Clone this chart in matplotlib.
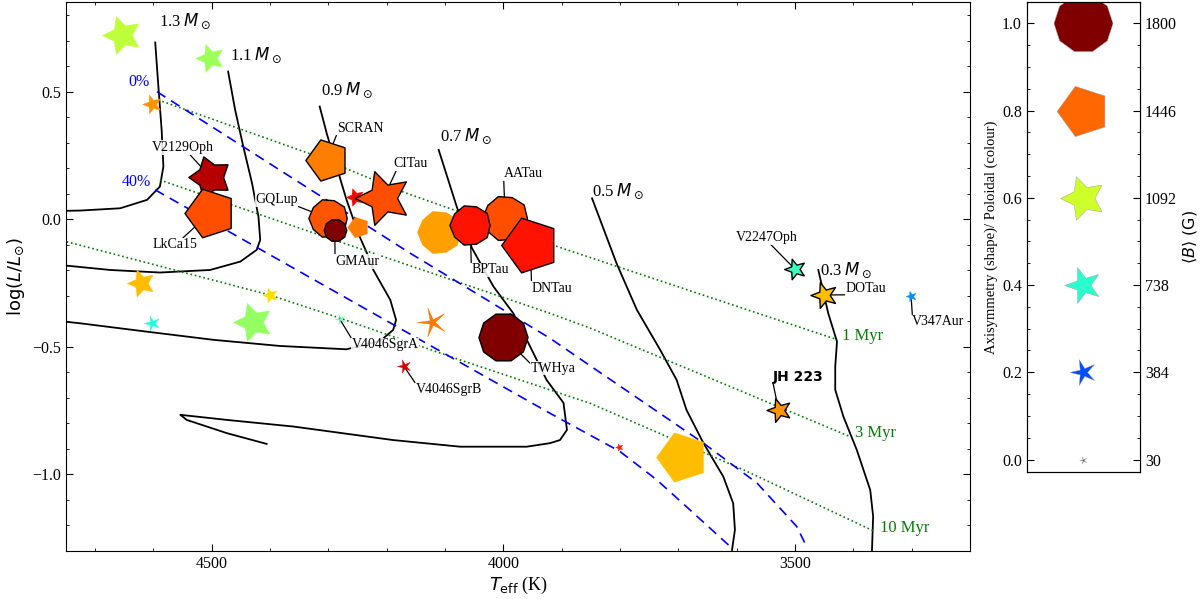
import numpy as np
import matplotlib
matplotlib.use("Agg")
import matplotlib.pyplot as plt
from matplotlib.path import Path
from matplotlib.ticker import MultipleLocator, FormatStrFormatter

plt.rcParams['font.family'] = 'serif'
plt.rcParams['font.serif'] = ['Liberation Serif', 'DejaVu Serif']
plt.rcParams['mathtext.fontset'] = 'dejavusans'

# ---- evolutionary tracks (Teff [K], log L/Lsun) ----
trk13_T = [4597, 4592, 4586, 4583, 4589, 4611, 4657, 4726, 4750]
trk13_L = [0.693, 0.533, 0.350, 0.206, 0.128, 0.076, 0.043, 0.034, 0.033]
trk11_T = [4472, 4460, 4446, 4431, 4420, 4417, 4423, 4451, 4503, 4589, 4674, 4749]
trk11_L = [0.579, 0.429, 0.285, 0.141, 0.010, -0.081, -0.120, -0.166, -0.199, -0.209, -0.199, -0.182]
trk09_T = [4315, 4303, 4286, 4269, 4249, 4234, 4223, 4194, 4184, 4189, 4211, 4269, 4383, 4497, 4611, 4726, 4750]
trk09_L = [0.442, 0.337, 0.206, 0.076, -0.055, -0.133, -0.199, -0.316, -0.395, -0.434, -0.477, -0.510,
           -0.497, -0.473, -0.441, -0.408, -0.402]
trk07_T = [4111, 4080, 4054, 4017, 3983, 3954, 3926, 3897, 3891, 3903, 3920, 3960, 4074, 4189, 4360,
           4474, 4554, 4543, 4474, 4406]
trk07_L = [0.272, 0.049, -0.113, -0.264, -0.369, -0.50, -0.63, -0.72, -0.826, -0.866, -0.878, -0.892,
           -0.892, -0.866, -0.813, -0.787, -0.767, -0.787, -0.839, -0.881]
trk05_T = [3848, 3806, 3771, 3731, 3703, 3686, 3657, 3623, 3606, 3603, 3608]
trk05_L = [0.082, -0.173, -0.356, -0.513, -0.630, -0.748, -0.878, -1.009, -1.114, -1.218, -1.297]
trk03_T = [3460, 3451, 3443, 3428, 3431, 3431, 3417, 3394, 3371, 3366, 3368]
trk03_L = [-0.199, -0.29, -0.369, -0.48, -0.578, -0.669, -0.774, -0.905, -1.062, -1.166, -1.297]
track_labels = ['1.3', '1.1', '0.9', '0.7', '0.5', '0.3']

# ---- isochrones ----
iso1_T = [4592, 4326, 4177, 3908, 3428]
iso1_L = [0.468, 0.252, 0.111, -0.107, -0.472]
iso3_T = [4589, 4383, 3920, 3851, 3405]
iso3_L = [0.154, -0.009, -0.369, -0.427, -0.853]
iso10_T = [4749, 4401, 4280, 4074, 3851, 3588, 3363]
iso10_L = [-0.088, -0.297, -0.388, -0.552, -0.722, -0.983, -1.225]
iso_labels = ['1 Myr', '3 Myr', '10 Myr']

# ---- spot coverage lines ----
spot0_T = [4594, 4160, 3920, 3657, 3565, 3497, 3480]
spot0_L = [0.50, -0.133, -0.467, -0.878, -1.035, -1.205, -1.284]
spot40_T = [4597, 3920, 3800, 3737, 3680, 3608]
spot40_L = [0.115, -0.761, -0.911, -1.022, -1.140, -1.290]
spot_labels = ['0%', '40%']

# ---- stars ----
names = ['', '', '', 'V2129Oph', 'LkCa15', 'SCRAN', '', 'CITau', 'GQLup', 'GMAur', '', '',
         'AATau', 'BPTau', 'DNTau', 'TWHya', '', '', '', '', 'V4046SgrA', '', 'V4046SgrB',
         '', '', 'V2247Oph', 'DOTau', 'V347Aur', 'JH 223']
teff = [4654, 4503, 4603, 4503, 4503, 4303, 4254, 4206, 4300, 4289, 4249, 4111,
        3997, 4057, 3954, 4000, 4622, 4401, 4603, 4429, 4281, 4123, 4171,
        3801, 3694, 3500, 3450, 3301, 3528]
logl = [0.723, 0.631, 0.452, 0.167, 0.024, 0.233, 0.086, 0.082, 0.004, -0.042, -0.029, -0.049,
        0.004, -0.022, -0.101, -0.46, -0.249, -0.297, -0.405, -0.402, -0.39, -0.402, -0.575,
        -0.892, -0.931, -0.196, -0.297, -0.30, -0.75]
bmean = [830, 445, 200, 970, 1350, 970, 177, 1650, 800, 265, 242, 1010,
         1100, 880, 1715, 1250, 413, 120, 138, 830, 60, 480, 104,
         30, 1400, 242, 380, 60, 323]
axisym = [0.6, 0.55, 0.45, 0.67, 0.8, 0.8, 0.55, 0.6, 0.95, 1.0, 0.8, 0.95,
          0.95, 0.95, 0.8, 1.0, 0.55, 0.5, 0.2, 0.6, 0.03, 0.08, 0.2,
          0.45, 0.8, 0.45, 0.45, 0.4, 0.45]
poloidal = [0.58, 0.54, 0.75, 0.95, 0.825, 0.775, 0.9, 0.825, 0.82, 1.0, 0.775, 0.74,
            0.825, 0.89, 0.89, 1.0, 0.71, 0.675, 0.39, 0.53, 0.45, 0.78, 0.925,
            0.88, 0.71, 0.42, 0.71, 0.265, 0.75]
outlined = [0, 0, 0, 1, 1, 1, 0, 1, 1, 1, 0, 0,
            1, 1, 1, 1, 0, 0, 0, 0, 0, 0, 0,
            0, 0, 1, 1, 0, 1]

# label placement (Teff, logL of text centre) and where the leader leaves the text
label_pos = {
    'V2129Oph': (4549, 0.281, (0.6, 0)), 'LkCa15': (4563, -0.101, (0.66, 1)),
    'SCRAN': (4246, 0.357, (0, 0)), 'CITau': (4160, 0.217, (0.1, 0)),
    'GQLup': (4389, 0.076, (1, 0)), 'GMAur': (4251, -0.166, (0, 1)),
    'BPTau': (4023, -0.199, (0, 1)), 'AATau': (3966, 0.18, (0, 0)),
    'DNTau': (3917, -0.271, (0, 1)), 'TWHya': (3914, -0.584, (0, 0.8)),
    'V4046SgrA': (4203, -0.493, (0, 1)), 'V4046SgrB': (4094, -0.669, (0, 1)),
    'V2247Oph': (3548, -0.071, (0.55, 0)), 'DOTau': (3378, -0.271, (0, 0)),
    'V347Aur': (3254, -0.402, (0, 1)), 'JH 223': (3494, -0.617, (0, 0)),
}

# legend
leg_axi = [0.0, 0.2, 0.4, 0.6, 0.8, 1.0]
leg_b = [30, 384, 738, 1092, 1446, 1800]

shape_axi = [0.0, 0.2, 0.4, 0.6, 0.8, 1.0]
shape_ratio = [0.12, 0.3, 0.4, 0.5, 0.809, 1.0]
jet = matplotlib.colormaps['jet']


def star_marker(a):
    ratio = np.interp(a, shape_axi, shape_ratio)
    ang = np.pi + np.arange(10) * np.pi / 5
    rad = np.where(np.arange(10) % 2 == 0, 1.0, ratio)
    verts = np.column_stack([rad * np.cos(ang), rad * np.sin(ang)])
    verts = np.vstack([verts, verts[:1]])
    codes = [Path.MOVETO] + [Path.LINETO] * 9 + [Path.CLOSEPOLY]
    return Path(verts, codes)


fig = plt.figure(figsize=(12, 5.99), dpi=100)
ax = fig.add_axes([0.055, 0.0793, 0.7533, 0.9174])

tracks = [(trk13_T, trk13_L), (trk11_T, trk11_L), (trk09_T, trk09_L),
          (trk07_T, trk07_L), (trk05_T, trk05_L), (trk03_T, trk03_L)]
mass_offsets = [(2.4, 15), (1.2, 12), (1, 12), (1.2, 9.4), (0, 5), (1.2, 0)]
for (tt, ll), lab, off in zip(tracks, track_labels, mass_offsets):
    ax.plot(tt, ll, color='k', lw=1.3, zorder=2)
    ax.annotate(lab + r' $M_\odot$', (tt[0], ll[0]), xytext=off, textcoords='offset points',
                ha='left', va='center', fontsize=12, zorder=2.6)

for (tt, ll), lab in zip([(iso1_T, iso1_L), (iso3_T, iso3_L), (iso10_T, iso10_L)], iso_labels):
    ax.plot(tt, ll, color='green', lw=1.2, ls=':', zorder=2)
    ax.annotate(lab, (tt[-1], ll[-1]), xytext=(3.6, 2.4), textcoords='offset points',
                ha='left', va='center', fontsize=12, color='green')

for (tt, ll), lab, off in zip([(spot0_T, spot0_L), (spot40_T, spot40_L)], spot_labels,
                              [(-5, 7), (-3, 6)]):
    ax.plot(tt, ll, color='blue', lw=1.2, ls=(0, (6, 4)), zorder=2)
    ax.annotate(lab, (tt[0], ll[0]), xytext=off, textcoords='offset points',
                ha='right', va='center', fontsize=11.5, color='blue')

for i in range(len(names)):
    col = jet(poloidal[i])
    if outlined[i]:
        ec, lw = 'k', 1.0
    else:
        ec, lw = col, 0.3
    ax.scatter([teff[i]], [logl[i]], s=bmean[i], marker=star_marker(axisym[i]),
               color=col, edgecolors=ec, linewidths=lw, zorder=3 + i * 0.01)
    if names[i]:
        lt, lL, rp = label_pos[names[i]]
        kw = dict(fontsize=10)
        if names[i] == 'JH 223':
            kw = dict(fontsize=10, family='DejaVu Sans', fontweight='bold')
        ax.annotate(names[i], (teff[i], logl[i]), xytext=(lt, lL), textcoords='data',
                    ha='center', va='center', zorder=2.5,
                    bbox=dict(boxstyle='square,pad=0.05', fc='white', ec='none', alpha=0.85),
                    arrowprops=dict(arrowstyle='-', color='k', lw=0.9, shrinkA=0, shrinkB=0,
                                    relpos=rp), **kw)

ax.set_xlim(4750, 3200)
ax.set_ylim(-1.303, 0.852)
ax.xaxis.set_major_locator(MultipleLocator(500))
ax.xaxis.set_minor_locator(MultipleLocator(100))
ax.yaxis.set_major_locator(MultipleLocator(0.5))
ax.yaxis.set_minor_locator(MultipleLocator(0.1))
ax.tick_params(which='both', direction='in', top=True, right=True, labelsize=11.5)
ax.tick_params(which='major', length=5)
ax.tick_params(which='minor', length=2.5)
ax.set_xlabel(r'$T_{\rm eff}$ (K)', fontsize=13, labelpad=2)
ax.set_ylabel(r'$\log(L/L_{\odot})$', fontsize=13, labelpad=4)

# ---- legend panel ----
lax = fig.add_axes([0.8556, 0.2125, 0.0944, 0.7841])
lax.set_xlim(0, 1)
lax.set_ylim(-0.028, 1.049)
for a, b in zip(leg_axi, leg_b):
    lax.scatter([0.5], [a], s=b, marker=star_marker(a), color=jet(a),
                edgecolors='0.6', linewidths=0.3, zorder=3)
lax.set_xticks([])
lax.yaxis.set_major_locator(MultipleLocator(0.2))
lax.yaxis.set_minor_locator(MultipleLocator(0.05))
lax.yaxis.set_major_formatter(FormatStrFormatter('%.1f'))
lax.tick_params(which='both', direction='in', labelsize=11.5)
lax.tick_params(which='major', length=5)
lax.tick_params(which='minor', length=2.5)
lax.set_ylabel('Axisymmetry (shape)/ Poloidal (colour)', fontsize=10.5, labelpad=3)

rax = lax.twinx()
rax.set_ylim(lax.get_ylim())
rax.set_yticks(leg_axi)
rax.set_yticklabels([str(b) for b in leg_b])
rax.yaxis.set_minor_locator(MultipleLocator(0.05))
rax.tick_params(which='both', direction='in', labelsize=11.5)
rax.tick_params(which='major', length=5)
rax.tick_params(which='minor', length=2.5)
rax.set_ylabel(r'$\langle B\rangle\ \mathrm{(G)}$', fontsize=11.5, labelpad=2)

fig.savefig('out.png', dpi=100)
